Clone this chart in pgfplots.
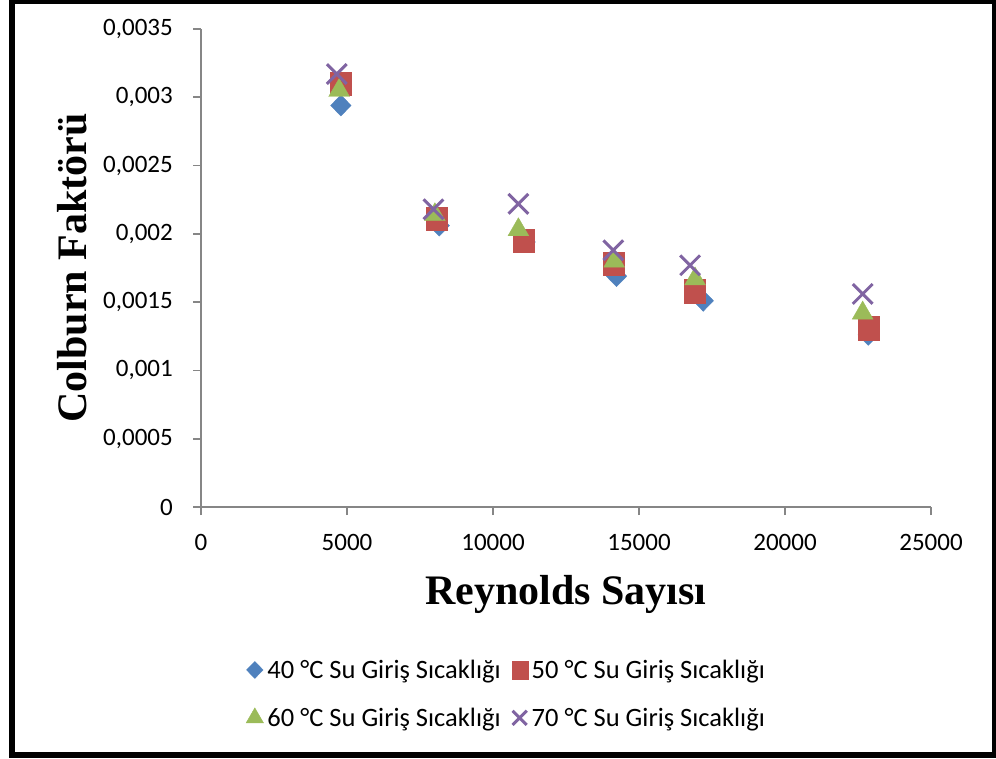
\documentclass[border=0pt]{standalone}
\usepackage{pgfplots}
\pgfplotsset{compat=1.18}
\usepackage{fontspec}
\setmainfont{Carlito}
\newfontfamily\tnr{Liberation Serif}

\definecolor{axisgray}{HTML}{868686}
\definecolor{sblue}{HTML}{4F81BD}
\definecolor{sred}{HTML}{C0504D}
\definecolor{sgreen}{HTML}{9BBB59}
\definecolor{spurple}{HTML}{8064A2}

\pgfplotsset{
  legmark/.style={legend image code/.code={\draw[##1,mark size=#1] plot coordinates {(0pt,0pt)};}}
}

\begin{document}
\begin{tikzpicture}[x=1pt,y=1pt]
\useasboundingbox (0,0) rectangle (996,758);
\begin{axis}[
  at={(201pt,251pt)}, anchor=south west,
  scale only axis, width=730pt, height=478pt,
  xmin=0, xmax=25000, ymin=0, ymax=0.0035,
  axis lines*=left,
  axis line style={draw=axisgray, line width=1.6pt},
  xtick={0,5000,10000,15000,20000,25000},
  xticklabels={0,5000,10000,15000,20000,25000},
  ytick={0,0.0005,0.001,0.0015,0.002,0.0025,0.003,0.0035},
  yticklabels={0,{0,0005},{0,001},{0,0015},{0,002},{0,0025},{0,003},{0,0035}},
  scaled x ticks=false, scaled y ticks=false,
  tick align=outside, major tick length=8pt,
  tick style={draw=axisgray, line width=1.6pt},
  every tick label/.append style={font=\fontsize{25}{30}\selectfont, inner sep=0pt},
  xticklabel style={anchor=north, yshift=-19pt},
  yticklabel style={anchor=east, xshift=-20pt},
  xlabel={Reynolds Sayısı},
  ylabel={Colburn Faktörü},
  label style={font=\tnr\bfseries\fontsize{42}{50}\selectfont},
  xlabel style={at={(axis description cs:0.5,-0.182)}, anchor=center},
  ylabel style={at={(axis description cs:-0.177,0.5)}, anchor=center},
  clip=false,
  legend columns=2,
  legend style={
    at={(axis description cs:0.0575,-0.391)}, anchor=west,
    draw=none, fill=none,
    font=\fontsize{26.5}{31}\selectfont,
    nodes={inner sep=1pt},
    row sep=26pt,
    /tikz/every odd column/.append style={column sep=3pt},
    /tikz/every even column/.append style={column sep=10pt},
  },
  legend cell align=left,
]
% 40 C inlet water
\addplot[only marks, mark=diamond*, mark size=10.5pt,
  mark options={fill=sblue, draw=sblue, xscale=1.3}, legmark=8.5pt] coordinates {
  (4790,0.00294) (8160,0.00206) (11100,0.00194)
  (14230,0.00169) (17200,0.00151) (22850,0.00126)};
% 50 C inlet water
\addplot[only marks, mark=square*, mark size=10.5pt,
  mark options={fill=sred, draw=sred, yscale=1.12}, legmark=8pt] coordinates {
  (4790,0.00310) (8080,0.00211) (11040,0.00195)
  (14150,0.00178) (16920,0.00158) (22850,0.00131)};
% 60 C inlet water
\addplot[only marks, mark=triangle*, mark size=12pt,
  mark options={fill=sgreen, draw=sgreen}, legmark=10pt] coordinates {
  (4730,0.00305) (8010,0.00214) (10870,0.00203)
  (14150,0.00180) (16920,0.00167) (22660,0.00142)};
% 70 C inlet water
\addplot[only marks, mark=x, mark size=14pt,
  mark options={draw=spurple, line width=3pt}, legmark=10pt] coordinates {
  (4650,0.00317) (7960,0.00218) (10870,0.00222)
  (14120,0.00188) (16750,0.00177) (22660,0.00156)};
\legend{40 °C Su Giriş Sıcaklığı, 50 °C Su Giriş Sıcaklığı,
        60 °C Su Giriş Sıcaklığı, 70 °C Su Giriş Sıcaklığı}
\end{axis}
% outer frame
\draw[line width=6pt] (11.5,3) rectangle (995,757);
\end{tikzpicture}
\end{document}
